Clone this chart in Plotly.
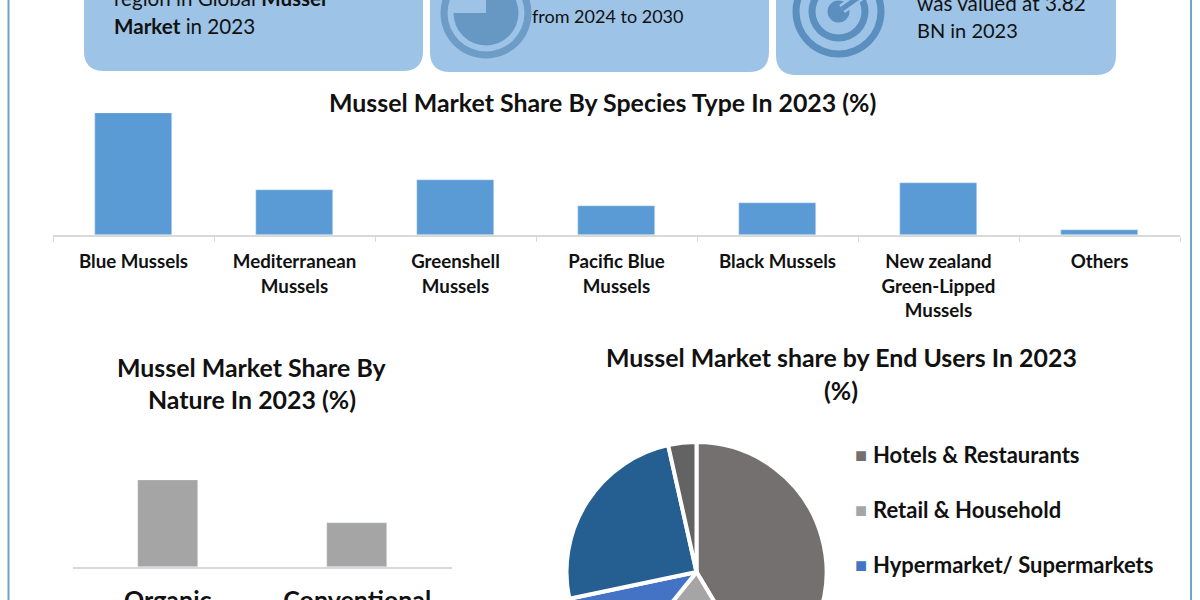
import plotly.graph_objects as go

W, H = 1200, 760
FONT = "Lato"

species = ["Blue Mussels", "Mediterranean<br>Mussels", "Greenshell<br>Mussels", "Pacific Blue<br>Mussels",
           "Black Mussels", "New zealand<br>Green-Lipped<br>Mussels", "Others"]
species_share = [36.0, 13.4, 16.1, 8.6, 9.5, 15.2, 1.5]
nature = ["Organic", "Conventional"]
nature_share = [66.4, 33.6]
end_users = ["Hotels & Restaurants", "Retail & Household", "Hypermarket/ Supermarkets", "Unread segment A", "Unread segment B"]
end_user_share = [41.4, 19.4, 10.9, 24.8, 3.5]
end_user_colors = ["#747070", "#A5A5A5", "#4472C4", "#255E91", "#636363"]


def px(x):
    return x / W


def py(y):
    return 1 - y / H


def rounded(x0, x1, y1, r):
    return (f"M {px(x0)} {py(-20)} L {px(x1)} {py(-20)} L {px(x1)} {py(y1 - r)} "
            f"Q {px(x1)} {py(y1)} {px(x1 - r)} {py(y1)} L {px(x0 + r)} {py(y1)} "
            f"Q {px(x0)} {py(y1)} {px(x0)} {py(y1 - r)} Z")


def circle(shapes, cx, cy, r, color):
    shapes.append(dict(type="circle", xref="paper", yref="paper", x0=px(cx - r), x1=px(cx + r),
                       y0=py(cy + r), y1=py(cy - r), fillcolor=color, line_width=0, layer="above"))


fig = go.Figure()
fig.add_trace(go.Bar(x=species, y=species_share, marker_color="#5B9BD5", width=0.48, xaxis="x", yaxis="y"))
fig.add_trace(go.Bar(x=nature, y=nature_share, marker_color="#A5A5A5", width=0.315, xaxis="x2", yaxis="y2"))
fig.add_trace(go.Pie(labels=end_users, values=end_user_share, sort=False, direction="clockwise", rotation=0,
                     marker=dict(colors=end_user_colors, line=dict(color="white", width=4)),
                     textinfo="none", hoverinfo="label+percent",
                     domain=dict(x=[px(566.5), px(826.5)], y=[py(702), py(442)])))

shapes = []
BOX = "#9DC3E6"
RING = "#6D9CC6"
TARGET = "#5B8FC0"
for x0, x1, y1 in [(84, 423, 71), (430, 769, 72), (776, 1116, 75)]:
    shapes.append(dict(type="path", xref="paper", yref="paper", path=rounded(x0, x1, y1, 20),
                       fillcolor=BOX, line_width=0, layer="below"))
for x in (8.5, 1191):
    shapes.append(dict(type="line", xref="paper", yref="paper", x0=px(x), x1=px(x), y0=0, y1=1,
                       line=dict(color="#6FA3C8", width=2)))

# pie-chart icon
circle(shapes, 486, 13, 45.5, RING)
circle(shapes, 486, 13, 38.5, BOX)
circle(shapes, 486, 13, 32.5, "#6798C3")
shapes.append(dict(type="rect", xref="paper", yref="paper", x0=px(450), x1=px(486), y0=py(13), y1=py(-25),
                   fillcolor=BOX, line_width=0, layer="above"))
# target icon
for r, c in [(46, TARGET), (39, BOX), (30, TARGET), (23, BOX), (11, TARGET)]:
    circle(shapes, 838.5, 11.5, r, c)
for color, width in [(BOX, 10), (TARGET, 5)]:
    shapes.append(dict(type="line", xref="paper", yref="paper", x0=px(842), x1=px(866), y0=py(9), y1=py(-8),
                       line=dict(color=color, width=width), layer="above"))

ann = []


def text(x, y, s, size, color="#111", anchor="left"):
    ann.append(dict(xref="paper", yref="paper", x=px(x), y=py(y), text=s, showarrow=False, xanchor=anchor,
                    yanchor="middle", align="left" if anchor == "left" else "center",
                    font=dict(family=FONT, size=size, color=color)))


text(112, -2, "region in Global <b>Mussel</b>", 20.6)
text(112, 26, "<b>Market</b> in 2023", 20.6)
text(530, 16, "from 2024 to 2030", 18)
text(915, 3, "was valued at 3.82", 20.7)
text(915, 30, "BN in 2023", 20)
text(602.5, 102, "<b>Mussel Market Share By Species Type In 2023 (%)</b>", 24.9, anchor="center")
text(252, 367, "<b>Mussel Market Share By</b>", 24.9, anchor="center")
text(252, 399, "<b>Nature In 2023 (%)</b>", 24.9, anchor="center")
text(841, 357, "<b>Mussel Market share by End Users In 2023</b>", 24.9, anchor="center")
text(841, 390, "<b>(%)</b>", 24.9, anchor="center")
for y, name, color in zip([454, 509, 564], end_users, end_user_colors):
    text(871, y, f"<b>{name}</b>", 22)
    text(853, y, f"<span style='color:{color}'>■</span>", 20)

fig.update_layout(
    width=W, height=H, margin=dict(l=0, r=0, t=0, b=0), paper_bgcolor="white", plot_bgcolor="white",
    showlegend=False, shapes=shapes, annotations=ann, bargap=0,
    xaxis=dict(domain=[px(53), px(1180)], anchor="y", type="category", showline=True, linecolor="#D9D9D9", linewidth=2,
               ticks="outside", tickson="boundaries", ticklen=5, tickcolor="#D9D9D9", showgrid=False,
               ticklabelstandoff=9, tickfont=dict(family=FONT, size=18.7, color="#111", weight="bold")),
    yaxis=dict(domain=[py(235), py(113)], range=[0, 36], visible=False),
    xaxis2=dict(domain=[px(73), px(452)], anchor="y2", type="category", showline=True, linecolor="#D9D9D9", linewidth=2,
                ticks="", showgrid=False, ticklabelstandoff=10,
                tickfont=dict(family=FONT, size=25, color="#111", weight="bold")),
    yaxis2=dict(domain=[py(567), py(480)], range=[0, 66.4], visible=False),
)
fig.write_html("out.html", config={"displayModeBar": False},
               post_script="document.body.style.margin='0';document.documentElement.style.overflow='hidden';")
